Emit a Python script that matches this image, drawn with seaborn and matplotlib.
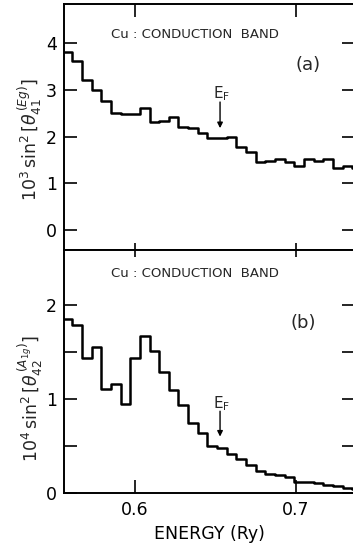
import matplotlib
matplotlib.use("Agg")
import matplotlib.pyplot as plt
import seaborn as sns
import pandas as pd

# ---- data ----
energy_edges = [0.555, 0.561, 0.567, 0.573, 0.579, 0.585, 0.591, 0.597, 0.603,
                0.609, 0.615, 0.621, 0.627, 0.633, 0.639, 0.645, 0.651, 0.657,
                0.663, 0.669, 0.675, 0.681, 0.687, 0.693, 0.699, 0.705, 0.711,
                0.717, 0.723, 0.729, 0.735, 0.741]
eg_values = [3.82, 3.61, 3.21, 3.00, 2.76, 2.51, 2.48, 2.48, 2.61, 2.32, 2.34,
             2.41, 2.21, 2.19, 2.07, 1.96, 1.97, 2.00, 1.78, 1.68, 1.45, 1.47,
             1.53, 1.46, 1.37, 1.51, 1.48, 1.52, 1.33, 1.37, 1.33]
a1g_values = [1.85, 1.79, 1.44, 1.55, 1.11, 1.16, 0.95, 1.44, 1.67, 1.51, 1.29,
              1.10, 0.94, 0.74, 0.64, 0.50, 0.48, 0.42, 0.36, 0.30, 0.23, 0.20,
              0.19, 0.17, 0.12, 0.12, 0.11, 0.09, 0.075, 0.055, 0.045]
x_ticks = [0.6, 0.7]
x_ticklabels = ["0.6", "0.7"]
ya_ticks = [0, 1, 2, 3, 4]
yb_ticks = [0, 0.5, 1, 1.5, 2]
yb_ticklabels = ["0", "", "1", "", "2"]
fermi_energy = 0.6528
title_text = "Cu : CONDUCTION  BAND"

sns.set_theme(style="ticks")
plt.rcParams["font.family"] = ["DejaVu Sans"]
plt.rcParams["mathtext.fontset"] = "dejavusans"

fig = plt.figure(figsize=(3.53, 5.48), dpi=100)
fig.patch.set_facecolor("white")

left, right = 64 / 353, 355 / 353
w = right - left
ax_a = fig.add_axes([left, 1 - 250 / 548, w, (250 - 4) / 548])
ax_b = fig.add_axes([left, 1 - 493 / 548, w, (493 - 250) / 548])

df_a = pd.DataFrame({"E": energy_edges, "v": eg_values + [eg_values[-1]]})
df_b = pd.DataFrame({"E": energy_edges, "v": a1g_values + [a1g_values[-1]]})

sns.lineplot(data=df_a, x="E", y="v", ax=ax_a, drawstyle="steps-post",
             color="black", lw=1.8, estimator=None)
sns.lineplot(data=df_b, x="E", y="v", ax=ax_b, drawstyle="steps-post",
             color="black", lw=1.8, estimator=None)

xlim = (0.5559, 0.7366)
for ax in (ax_a, ax_b):
    ax.set_xlim(*xlim)
    ax.set_xticks(x_ticks)
    ax.set_xlabel("")
    ax.set_ylabel("")
    ax.set_facecolor("white")
    for s in ax.spines.values():
        s.set_linewidth(1.4)
        s.set_color("black")
    ax.tick_params(direction="in", length=9.5, width=1.2, top=True, right=True,
                   labelsize=12.5, colors="black", pad=5)

ax_a.set_ylim(-0.43, 4.84)
ax_a.set_yticks(ya_ticks)
ax_a.set_yticklabels([str(t) for t in ya_ticks])
ax_a.set_xticklabels([])

ax_b.set_ylim(0, 2.585)
ax_b.set_yticks(yb_ticks)
ax_b.set_yticklabels(yb_ticklabels)
ax_b.set_xticklabels(x_ticklabels)
ax_b.tick_params(axis="x", pad=6)

# shorter ticks on the shared boundary
for t in ax_a.xaxis.get_major_ticks():
    t.tick1line.set_markersize(5)
for t in ax_b.xaxis.get_major_ticks():
    t.tick2line.set_markersize(5)

ax_b.set_xlabel("ENERGY (Ry)", fontsize=12.5, labelpad=4, color="black")

# panel texts
ax_a.text(0.6373, 4.18, title_text, ha="center", va="center", fontsize=9.5)
ax_b.text(0.6373, 2.33, title_text, ha="center", va="center", fontsize=9.5)
ax_a.text(0.7075, 3.53, "(a)", ha="center", va="center", fontsize=13)
ax_b.text(0.7045, 1.81, "(b)", ha="center", va="center", fontsize=13)

ax_a.text(fermi_energy + 0.0012, 2.93, r"E$_\mathregular{F}$", ha="center",
          va="center", fontsize=11)
ax_a.annotate("", xy=(fermi_energy, 2.18), xytext=(fermi_energy, 2.74),
              arrowprops=dict(arrowstyle="-|>", color="black", lw=1.0,
                              mutation_scale=8, shrinkA=0, shrinkB=0))
ax_b.text(fermi_energy + 0.0012, 0.95, r"E$_\mathregular{F}$", ha="center",
          va="center", fontsize=11)
ax_b.annotate("", xy=(fermi_energy, 0.60), xytext=(fermi_energy, 0.87),
              arrowprops=dict(arrowstyle="-|>", color="black", lw=1.0,
                              mutation_scale=8, shrinkA=0, shrinkB=0))

fig.text(30 / 353, 1 - 140 / 548, r"$10^3\,\mathregular{sin}^2\,[\theta_{41}^{\,(Eg)}]$",
         rotation=90, ha="center", va="center", fontsize=12.5)
fig.text(30 / 353, 1 - 398 / 548, r"$10^4\,\mathregular{sin}^2\,[\theta_{42}^{\,(A_{1g})}]$",
         rotation=90, ha="center", va="center", fontsize=12.5)

fig.savefig("out.png", dpi=100, facecolor="white")
